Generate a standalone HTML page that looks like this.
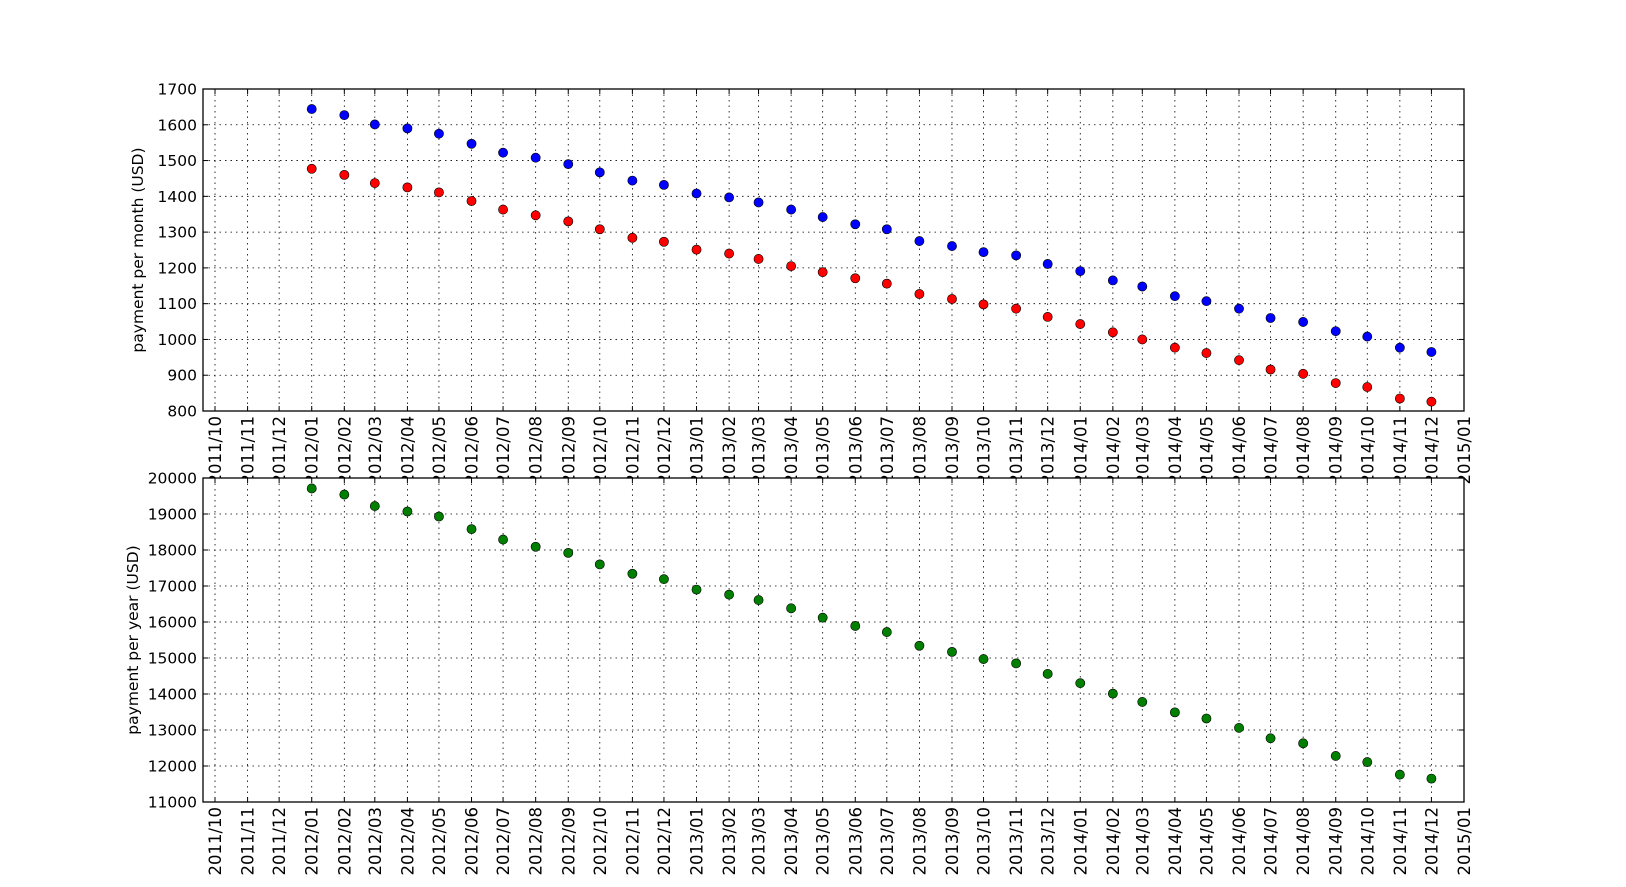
<!DOCTYPE html>
<html><head><meta charset="utf-8"><style>
body{margin:0;background:#fff;}
svg{display:block;font-family:"DejaVu Sans","Liberation Sans",sans-serif;}
</style></head><body>
<svg id="c" width="1626" height="887"></svg>
<script>
const months = [];
for (let y = 2012; y <= 2014; y++) for (let m = 1; m <= 12; m++) months.push([y, m]);
const monthlyBlue = [1644,1627,1601,1590,1575,1547,1522,1508,1490,1467,1444,1432,1408,1397,1383,1363,1342,1322,1308,1275,1261,1244,1235,1211,1191,1165,1148,1121,1107,1086,1060,1049,1023,1008,977,965];
const monthlyRed = [1477,1460,1437,1425,1411,1387,1363,1347,1330,1308,1284,1273,1251,1240,1225,1205,1188,1171,1156,1127,1113,1098,1086,1063,1043,1020,1000,977,962,942,916,904,878,867,835,826];
const yearlyGreen = [19710,19540,19220,19070,18930,18580,18290,18090,17920,17600,17340,17190,16900,16760,16610,16380,16120,15890,15720,15340,15170,14970,14850,14560,14300,14010,13780,13490,13320,13060,12770,12630,12280,12110,11760,11650];
const topTicks = [800,900,1000,1100,1200,1300,1400,1500,1600,1700];
const bottomTicks = [11000,12000,13000,14000,15000,16000,17000,18000,19000,20000];
const xTickMonths = [];
for (let i = 0; i < 40; i++) { const d = new Date(2011, 9 + i, 1); xTickMonths.push([d.getFullYear(), d.getMonth() + 1]); }

const NS = "http://www.w3.org/2000/svg";
const svg = document.getElementById('c');
const L = 203, R = 1464;
const xMin = Date.UTC(2011, 8, 19, 14), xMax = Date.UTC(2015, 0, 1);
function xs(y, m) { return L + (Date.UTC(y, m - 1, 1) - xMin) / (xMax - xMin) * (R - L); }
function mk(tag, attrs, parent) { const e = document.createElementNS(NS, tag); for (const k in attrs) e.setAttribute(k, attrs[k]); (parent || svg).appendChild(e); return e; }
function fmt(y, m) { return y + '/' + (m < 10 ? '0' : '') + m; }

function panel(name, T, B, yMin, yMax, ticks, series, ylabel, ylabelX) {
  const g = mk('g', {});
  
  
  const ys = v => B - (v - yMin) / (yMax - yMin) * (B - T);
  const bg = mk('rect', {x: L, y: T, width: R - L, height: B - T, fill: '#fff'}, g);
  
  
  xTickMonths.forEach(([y, m]) => {
    const x = xs(y, m);
    mk('line', {x1: x, x2: x, y1: T, y2: B, stroke: '#000', 'stroke-width': 0.8, 'stroke-dasharray': '1.5,4'}, g);
    mk('line', {x1: x, x2: x, y1: B, y2: B - 5, stroke: '#000', 'stroke-width': 1}, g);
    mk('line', {x1: x, x2: x, y1: T, y2: T + 5, stroke: '#000', 'stroke-width': 1}, g);
  });
  ticks.forEach(v => {
    const y = ys(v);
    mk('line', {x1: L, x2: R, y1: y, y2: y, stroke: '#000', 'stroke-width': 0.8, 'stroke-dasharray': '1.5,4'}, g);
    mk('line', {x1: L, x2: L + 5, y1: y, y2: y, stroke: '#000'}, g);
    mk('line', {x1: R, x2: R - 5, y1: y, y2: y, stroke: '#000'}, g);
    const t = mk('text', {x: L - 6, y: y + 5.5, 'text-anchor': 'end', 'font-size': 15.5}, g);
    t.textContent = v;
    
    
  });
  series.forEach(([vals, color, sname]) => {
    vals.forEach((v, i) => {
      const c = mk('circle', {cx: xs(months[i][0], months[i][1]), cy: ys(v), r: 4.6, fill: color, stroke: '#000', 'stroke-width': 0.6}, g);
      
      
    });
  });
  const fr = mk('rect', {x: L, y: T, width: R - L, height: B - T, fill: 'none', stroke: '#000', 'stroke-width': 1.3}, g);
  
  
  const yl = mk('text', {x: ylabelX, y: (T + B) / 2, 'text-anchor': 'middle', 'font-size': 15.5, transform: `rotate(-90 ${ylabelX} ${(T + B) / 2})`}, g);
  yl.textContent = ylabel;
  
  
  xTickMonths.forEach(([y, m]) => {
    const x = xs(y, m) + 6, yy = B + 5;
    const t = mk('text', {x: x, y: yy, 'text-anchor': 'end', 'font-size': 16.5, transform: `rotate(-90 ${x} ${yy})`}, g);
    t.textContent = fmt(y, m);
    
    
  });
}
panel('monthly-panel', 89, 411, 800, 1700, topTicks, [[monthlyBlue, '#0000ff', 'blue-series'], [monthlyRed, '#ff0000', 'red-series']], 'payment per month (USD)', 143);
panel('yearly-panel', 478, 802, 11000, 20000, bottomTicks, [[yearlyGreen, '#007f00', 'green-series']], 'payment per year (USD)', 138);
</script>
</body></html>
